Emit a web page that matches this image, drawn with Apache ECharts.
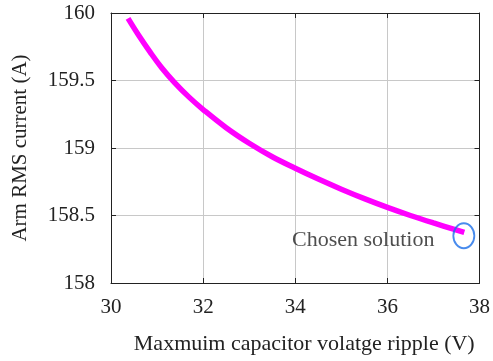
<!DOCTYPE html>
<html><head><meta charset="utf-8">
<script src="https://cdn.jsdelivr.net/npm/echarts@6/dist/echarts.min.js"></script>
<style>html,body{margin:0;padding:0;background:#fff}#c{width:493px;height:361px}</style>
</head><body><div id="c"></div>
<script>
var ripple = [30.37, 30.6, 30.85, 31.1, 31.38, 31.7, 32.0, 32.5, 33.0, 33.5, 34.0, 34.5, 35.0, 35.5, 36.0, 36.5, 37.0, 37.67];
var current = [159.96, 159.835, 159.71, 159.595, 159.485, 159.375, 159.285, 159.15, 159.035, 158.935, 158.85, 158.77, 158.695, 158.625, 158.56, 158.50, 158.445, 158.375];
var chosen = [37.66, 158.35];
var chosenLabel = 'Chosen solution';
var xTitle = 'Maxmuim capacitor volatge ripple (V)';
var yTitle = 'Arm RMS current (A)';

var font = 'Liberation Serif';
var chart = echarts.init(document.getElementById('c'), null, {renderer: 'canvas'});
var pts = ripple.map(function (x, i) { return [x, current[i]]; });
var common = {
  axisLine: {show: true, lineStyle: {color: '#222', width: 1}},
  axisTick: {show: true, inside: true, length: 5, lineStyle: {color: '#222'}}
};
chart.setOption({
  animation: false,
  backgroundColor: '#fff',
  grid: {left: 111, right: 11, top: 13, bottom: 78, show: false},
  xAxis: [{
    type: 'value', min: 30, max: 38, interval: 2, position: 'bottom',
    axisLine: common.axisLine, axisTick: common.axisTick,
    axisLabel: {fontFamily: font, fontSize: 21, color: '#222', margin: 14},
    splitLine: {show: true, lineStyle: {color: '#c8c8c8', width: 1}},
    name: xTitle, nameLocation: 'middle', nameGap: 50,
    nameTextStyle: {fontFamily: font, fontSize: 22, color: '#222', padding: [0, 0, 0, 18]}
  }, {
    type: 'value', min: 30, max: 38, interval: 2, position: 'top',
    axisLine: common.axisLine, axisTick: common.axisTick,
    axisLabel: {show: false}, splitLine: {show: false}
  }],
  yAxis: [{
    type: 'value', min: 158, max: 160, interval: 0.5, position: 'left',
    axisLine: common.axisLine, axisTick: common.axisTick,
    axisLabel: {fontFamily: font, fontSize: 21, color: '#222', margin: 16},
    splitLine: {show: true, lineStyle: {color: '#c8c8c8', width: 1}},
    name: yTitle, nameLocation: 'middle', nameGap: 80,
    nameTextStyle: {fontFamily: font, fontSize: 21, color: '#222'}
  }, {
    type: 'value', min: 158, max: 160, interval: 0.5, position: 'right',
    axisLine: common.axisLine, axisTick: common.axisTick,
    axisLabel: {show: false}, splitLine: {show: false}
  }],
  series: [{
    type: 'line', data: pts, smooth: 0.4, showSymbol: false,
    lineStyle: {color: '#ff00ff', width: 5.5}, itemStyle: {color: '#ff00ff'}
  }, {
    type: 'scatter', data: [chosen], symbol: 'circle', symbolSize: [21, 25],
    itemStyle: {color: 'rgba(0,0,0,0)', borderColor: '#1a6ee8', borderWidth: 2},
    label: {show: true, position: 'left', distance: 18, formatter: chosenLabel,
      fontFamily: font, fontSize: 22, color: '#222', offset: [0, 4]},
    z: 5
  }]
});
</script></body></html>
